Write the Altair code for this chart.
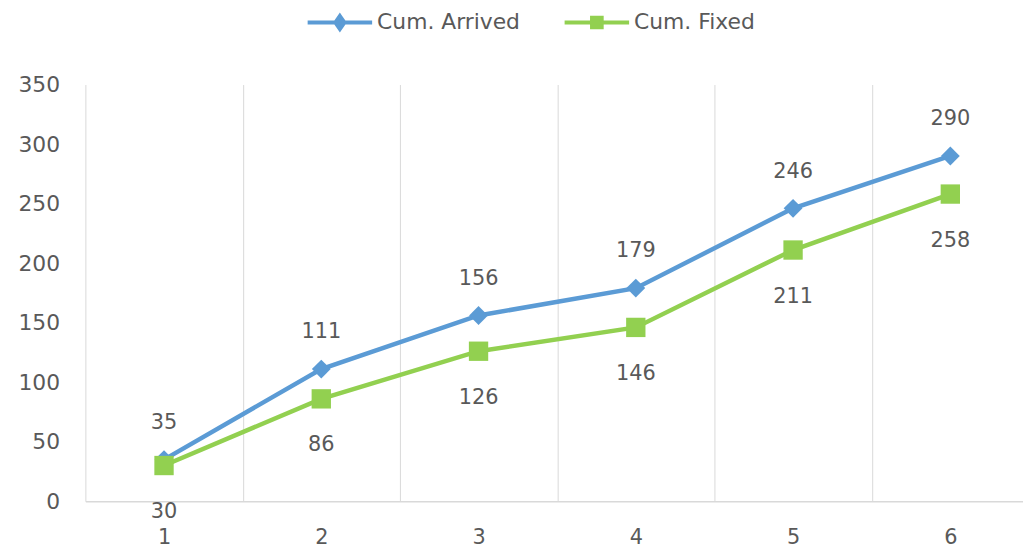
import altair as alt
import pandas as pd

steps = [1, 2, 3, 4, 5, 6]
cum_arrived = [35, 111, 156, 179, 246, 290]
cum_fixed = [30, 86, 126, 146, 211, 258]
series_names = ["Cum. Arrived", "Cum. Fixed"]
y_ticks = [0, 50, 100, 150, 200, 250, 300, 350]

BLUE = "#5B9BD5"
GREEN = "#92D050"
GREY = "#595959"
GRID = "#D9D9D9"
FONT = "DejaVu Sans"

rows = []
for s, v in zip(steps, cum_arrived):
    rows.append({"x": s, "value": v, "series": series_names[0]})
for s, v in zip(steps, cum_fixed):
    rows.append({"x": s, "value": v, "series": series_names[1]})
df = pd.DataFrame(rows)

X = alt.X(
    "x:O",
    bandPosition=0.5,
    scale=alt.Scale(type="band", paddingInner=0, paddingOuter=0, range=[0, 951]),
    axis=alt.Axis(
        title=None, tickBand="extent", grid=True, gridColor=GRID, gridWidth=1,
        ticks=False, domain=True, domainColor=GRID, domainWidth=1.5,
        labelAngle=0, labelPadding=26, labelFont=FONT, labelFontSize=21,
        labelColor=GREY,
    ),
)
Y = alt.Y(
    "value:Q",
    scale=alt.Scale(domain=[0, 350], nice=False),
    axis=alt.Axis(
        title=None, values=y_ticks, grid=False, domain=False, ticks=False,
        labelPadding=26, labelFont=FONT, labelFontSize=22, labelColor=GREY,
    ),
)


def series_layer(name, color, marker, marker_size, legend_path, legend_x, label_dy):
    base = alt.Chart(df).transform_filter(alt.datum.series == name)
    line = base.mark_line(color=color, strokeWidth=4.5).encode(x=X, y=Y)
    pts = base.mark_point(filled=True, shape=marker, size=marker_size, opacity=1).encode(
        x=X,
        y=Y,
        color=alt.Color(
            "series:N",
            scale=alt.Scale(domain=[name], range=[color]),
            legend=alt.Legend(
                title=None, orient="none", legendX=legend_x, legendY=-97,
                symbolType=legend_path, symbolSize=4225,
                symbolStrokeColor=color, symbolFillColor=color,
                symbolStrokeWidth=4, symbolOpacity=1,
                labelFont=FONT, labelFontSize=22, labelColor=GREY,
                labelOffset=3, padding=0,
            ),
        ),
    )
    txt = base.mark_text(dy=label_dy, font=FONT, fontSize=21, color=GREY).encode(
        x=X, y=Y, text="value:Q"
    )
    return alt.layer(line, pts, txt)


arrived_layer = series_layer(
    series_names[0], BLUE, "diamond", 360,
    "M-1,0L1,0M0,-0.2L0.14,0L0,0.2L-0.14,0Z", 222, -37,
)
fixed_layer = series_layer(
    series_names[1], GREEN, "square", 380,
    "M-1,0L1,0M-0.15,-0.15L0.15,-0.15L0.15,0.15L-0.15,0.15Z", 481, 47,
)

chart = (
    alt.layer(arrived_layer, fixed_layer)
    .resolve_scale(color="independent")
    .properties(
        width=945,
        height=420,
        autosize=alt.AutoSizeParams(type="none"),
        padding={"left": 78, "top": 75, "right": 0, "bottom": 46},
        background="white",
    )
    .configure_view(stroke=None)
)

chart.save("out.html", embed_options={"renderer": "svg", "actions": False})
